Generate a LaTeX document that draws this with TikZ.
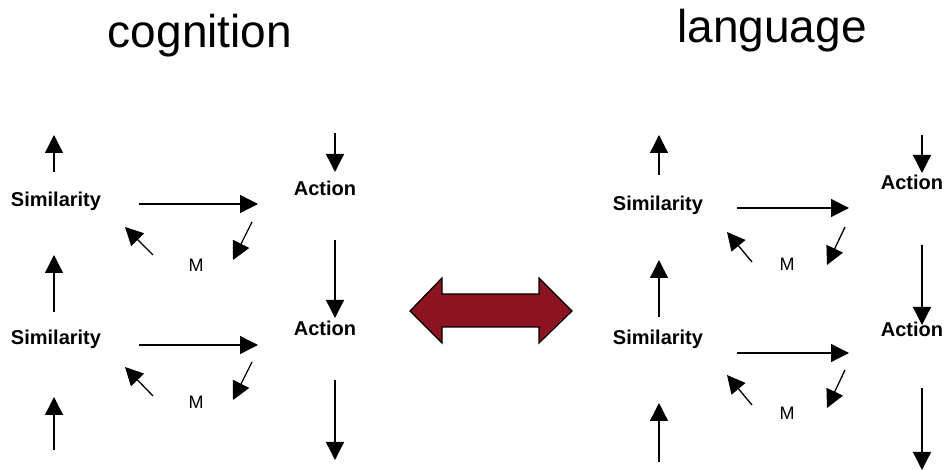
\documentclass[tikz,border=0pt]{standalone}
\usepackage{fontspec}
\setmainfont{Liberation Sans}
\usetikzlibrary{arrows.meta}
\definecolor{darkred}{RGB}{140,20,32}
\tikzset{tl/.append style={font=\fontsize{23}{26}\selectfont,anchor=base,inner sep=0pt}}
\tikzset{lb/.append style={font=\fontsize{10}{12}\selectfont\bfseries,anchor=base,inner sep=0pt}}
\tikzset{sm/.append style={font=\fontsize{9}{11}\selectfont,anchor=base,inner sep=0pt}}
\tikzset{ar/.append style={line width=0.65pt,-{Triangle[length=9pt,width=9pt]}}}
\tikzset{da/.append style={fill=darkred,draw=black,line width=0.6pt,line join=miter}}

\begin{document}
\begin{tikzpicture}[x=0.5pt,y=-0.5pt]
                \useasboundingbox (0,0) rectangle (944,470);
                % titles
                \node[tl] (cog) at (200,48) {cognition};
                \node[tl] (lang) at (772,43) {language};
                % left panel
                \node[lb] (ls1) at (56,207) {Similarity};
                \node[lb] (ls2) at (56,345) {Similarity};
                \node[lb] (la1) at (325,196) {Action};
                \node[lb] (la2) at (325,336) {Action};
                \node[sm] (lm1) at (196,272) {M};
                \node[sm] (lm2) at (196,409) {M};
                \coordinate (lu1a) at (54,172); \coordinate (lu1b) at (54,135);
                \coordinate (lu2a) at (54,312); \coordinate (lu2b) at (54,255);
                \coordinate (lu3a) at (54,450); \coordinate (lu3b) at (54,397);
                \coordinate (ld1a) at (335,133); \coordinate (ld1b) at (335,172);
                \coordinate (ld2a) at (335,240); \coordinate (ld2b) at (335,318);
                \coordinate (ld3a) at (335,380); \coordinate (ld3b) at (335,460);
                \coordinate (lh1a) at (139,204); \coordinate (lh1b) at (258,204);
                \coordinate (lh2a) at (139,345); \coordinate (lh2b) at (258,345);
                \coordinate (lr1a) at (252,222); \coordinate (lr1b) at (233,260);
                \coordinate (lr2a) at (252,362); \coordinate (lr2b) at (233,400);
                \coordinate (lk1a) at (153,255); \coordinate (lk1b) at (125,227);
                \coordinate (lk2a) at (153,396); \coordinate (lk2b) at (125,367);
                \draw[ar] (lu1a) -- (lu1b);
                \draw[ar] (lu2a) -- (lu2b);
                \draw[ar] (lu3a) -- (lu3b);
                \draw[ar] (ld1a) -- (ld1b);
                \draw[ar] (ld2a) -- (ld2b);
                \draw[ar] (ld3a) -- (ld3b);
                \draw[ar] (lh1a) -- (lh1b);
                \draw[ar] (lh2a) -- (lh2b);
                \draw[ar] (lr1a) -- (lr1b);
                \draw[ar] (lr2a) -- (lr2b);
                \draw[ar] (lk1a) -- (lk1b);
                \draw[ar] (lk2a) -- (lk2b);
                % right panel
                \node[lb] (rs1) at (658,211) {Similarity};
                \node[lb] (rs2) at (658,345) {Similarity};
                \node[lb] (ra1) at (912,190) {Action};
                \node[lb] (ra2) at (912,337) {Action};
                \node[sm] (rm1) at (787,271) {M};
                \node[sm] (rm2) at (787,420) {M};
                \coordinate (ru1a) at (659,175); \coordinate (ru1b) at (659,135);
                \coordinate (ru2a) at (659,317); \coordinate (ru2b) at (659,260);
                \coordinate (ru3a) at (659,462); \coordinate (ru3b) at (659,403);
                \coordinate (rd1a) at (922,135); \coordinate (rd1b) at (922,173);
                \coordinate (rd2a) at (922,245); \coordinate (rd2b) at (922,325);
                \coordinate (rd3a) at (922,388); \coordinate (rd3b) at (922,470);
                \coordinate (rh1a) at (737,208); \coordinate (rh1b) at (849,208);
                \coordinate (rh2a) at (737,353); \coordinate (rh2b) at (849,353);
                \coordinate (rr1a) at (845,227); \coordinate (rr1b) at (827,265);
                \coordinate (rr2a) at (845,370); \coordinate (rr2b) at (827,408);
                \coordinate (rk1a) at (752,262); \coordinate (rk1b) at (727,232);
                \coordinate (rk2a) at (752,405); \coordinate (rk2b) at (727,375);
                \draw[ar] (ru1a) -- (ru1b);
                \draw[ar] (ru2a) -- (ru2b);
                \draw[ar] (ru3a) -- (ru3b);
                \draw[ar] (rd1a) -- (rd1b);
                \draw[ar] (rd2a) -- (rd2b);
                \draw[ar] (rd3a) -- (rd3b);
                \draw[ar] (rh1a) -- (rh1b);
                \draw[ar] (rh2a) -- (rh2b);
                \draw[ar] (rr1a) -- (rr1b);
                \draw[ar] (rr2a) -- (rr2b);
                \draw[ar] (rk1a) -- (rk1b);
                \draw[ar] (rk2a) -- (rk2b);
                % double arrow
                \draw[da] (410,311) -- (442,278) -- (442,294) -- (539,294) -- (539,278)
                    -- (572,311) -- (539,343) -- (539,327) -- (442,327) -- (442,343) -- cycle;
            \end{tikzpicture}
\end{document}
